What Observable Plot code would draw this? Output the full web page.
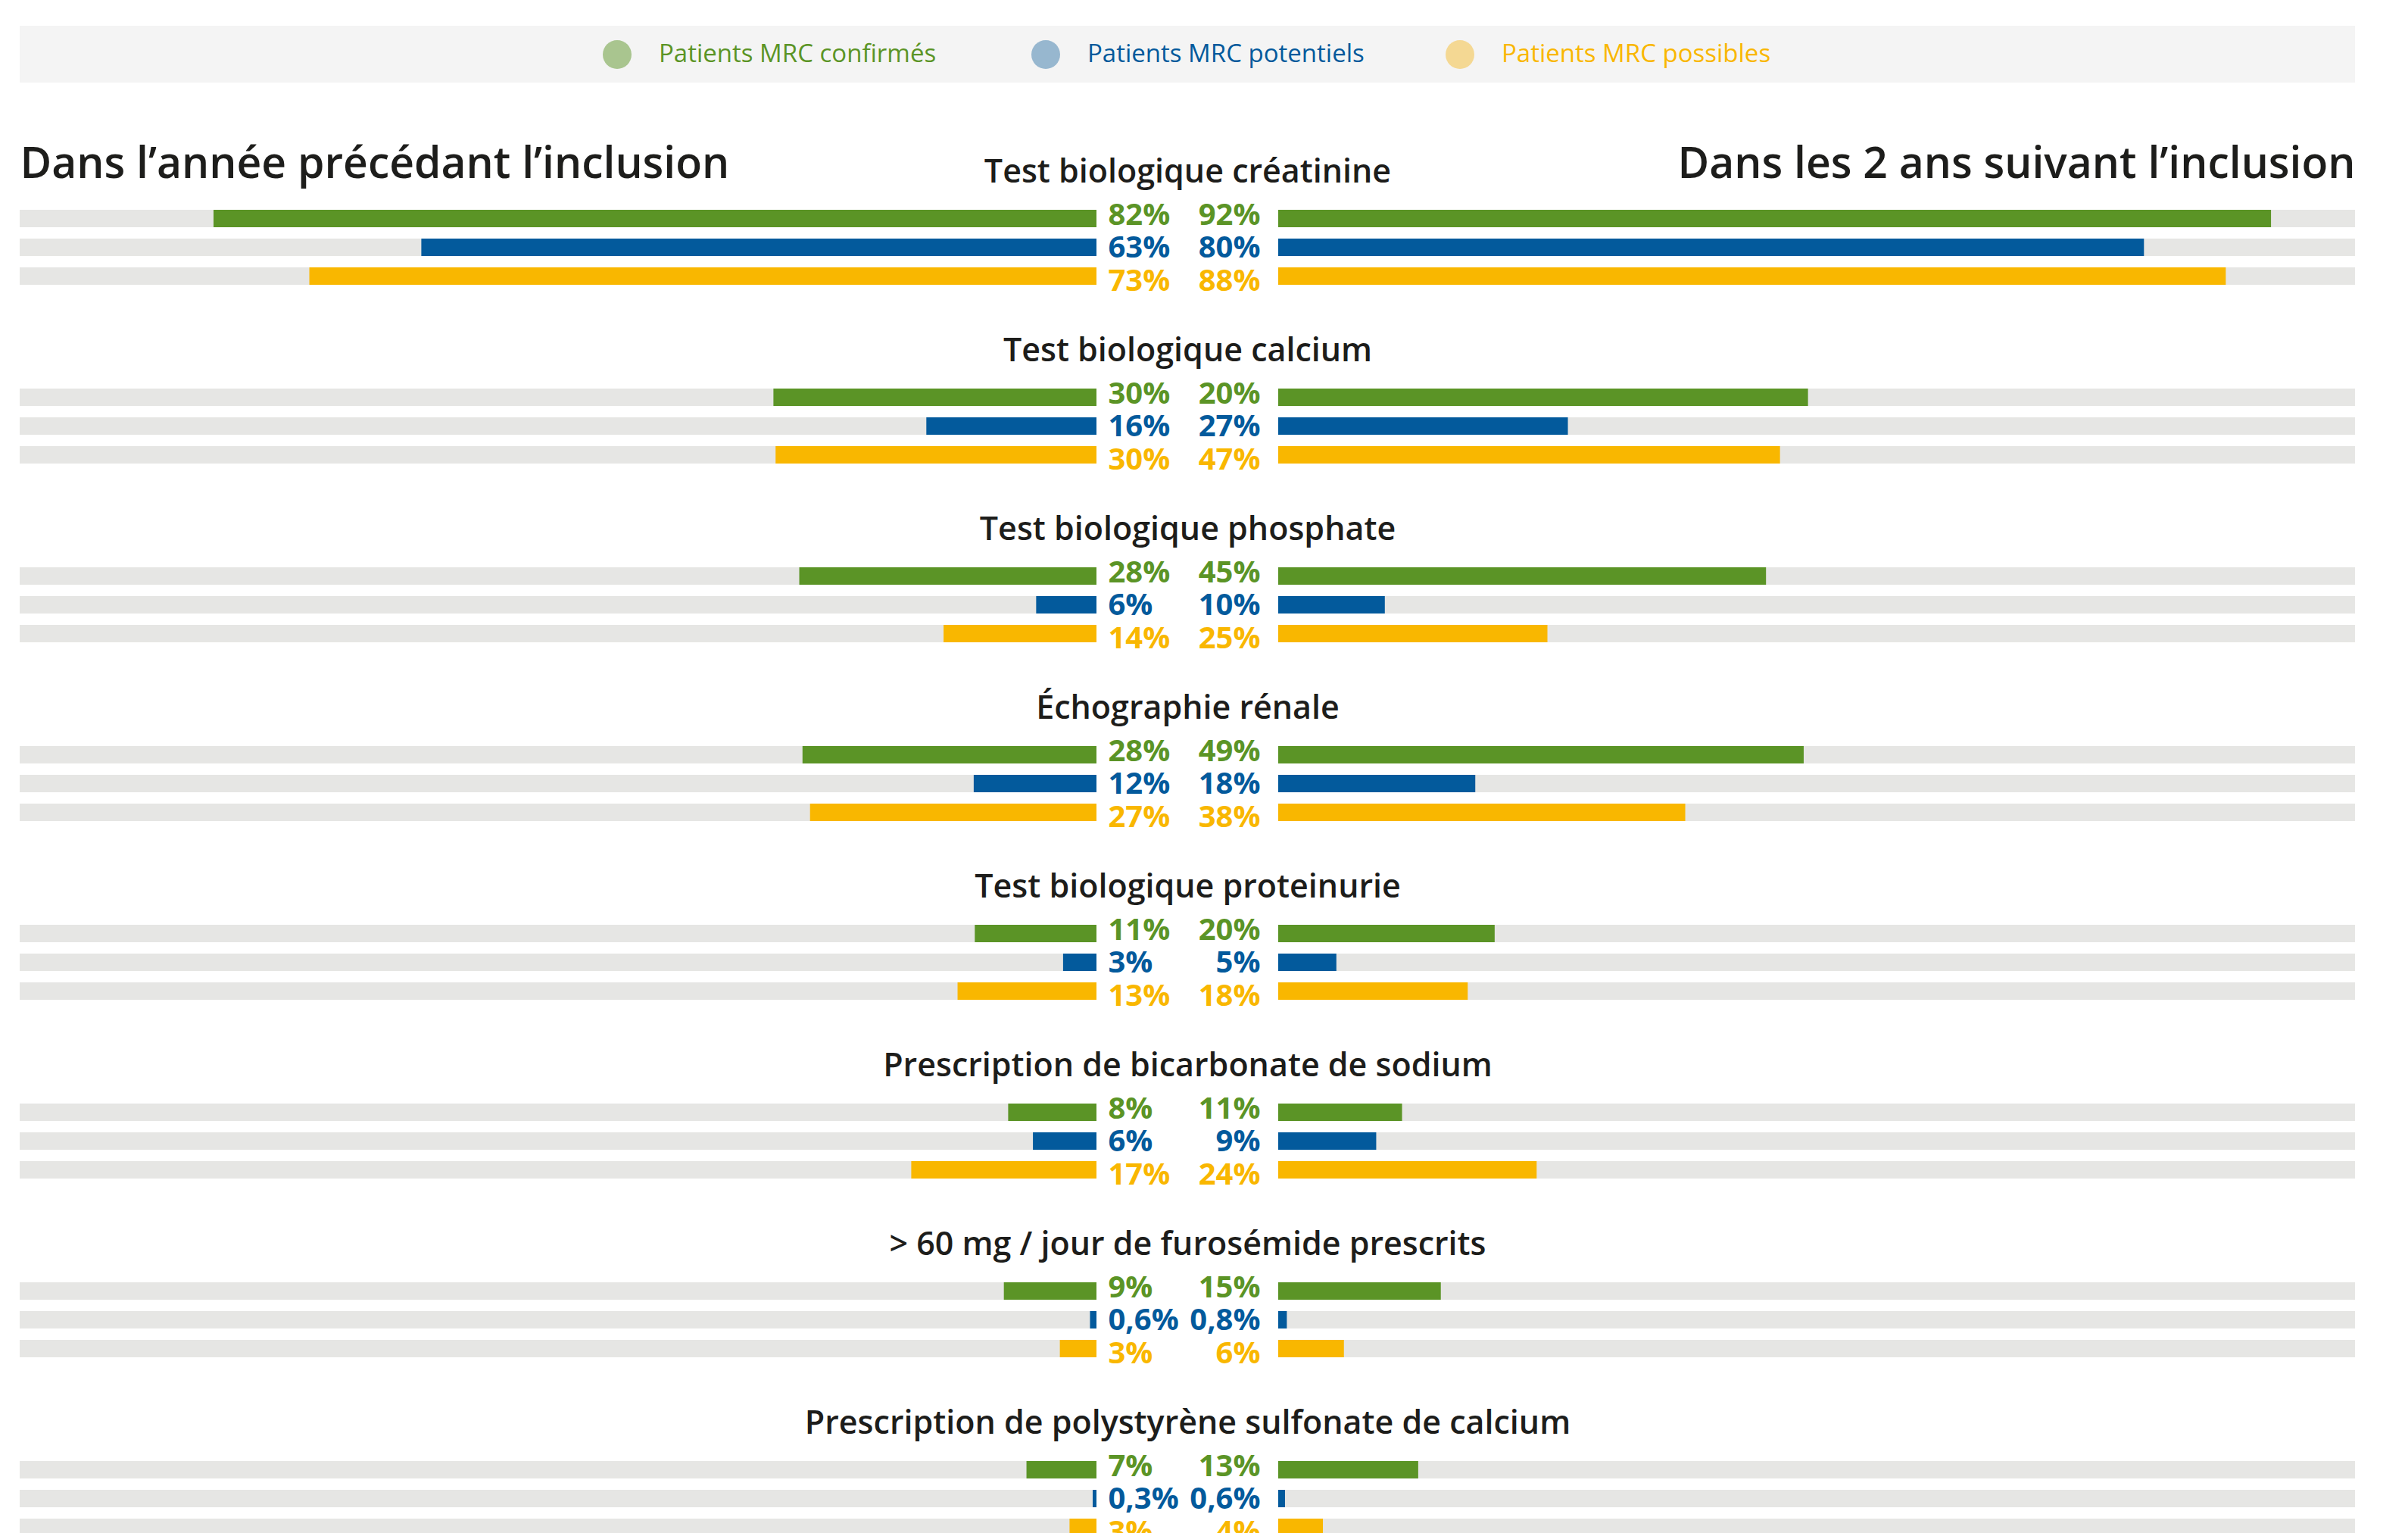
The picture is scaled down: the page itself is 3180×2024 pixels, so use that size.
<!DOCTYPE html>
<html>
<head>
<meta charset="utf-8">
<script src="https://cdn.jsdelivr.net/npm/d3@7"></script>
<script src="https://cdn.jsdelivr.net/npm/@observablehq/plot@0.6"></script>
<style>
  html, body { margin: 0; padding: 0; background: #ffffff; }
  body { width: 3180px; height: 2024px; overflow: hidden; font-family: "Open Sans", sans-serif; }
  #legend { position: relative; margin: 34px 0 0 26px; width: 3084px; height: 75px; background: #f4f4f4; }
  .item { position: absolute; top: 0; height: 75px; display: flex; align-items: center; }
  .dot { width: 38px; height: 38px; border-radius: 50%; margin-right: 36px; flex: none; }
  .item span { font-size: 33px; font-weight: 400; position: relative; top: -2px; white-space: nowrap; }
  #chart { height: 1915px; overflow: hidden; }
  #chart svg { display: block; }
</style>
</head>
<body>
<div id="legend"></div>
<div id="chart"></div>
<script>
// ---- Data ----
const sections = [
  "Test biologique créatinine",
  "Test biologique calcium",
  "Test biologique phosphate",
  "Échographie rénale",
  "Test biologique proteinurie",
  "Prescription de bicarbonate de sodium",
  "> 60 mg / jour de furosémide prescrits",
  "Prescription de polystyrène sulfonate de calcium"
];
const groups = ["Patients MRC confirmés", "Patients MRC potentiels", "Patients MRC possibles"];
const groupColors = ["#5b9426", "#035a9c", "#f9b700"];
const legendDotColors = ["#a9c58f", "#97b7cf", "#f4d893"];

const headerBefore = "Dans l’année précédant l’inclusion";
const headerAfter = "Dans les 2 ans suivant l’inclusion";

// Bar lengths (%)
const beforeConfirmes = [82, 30, 27.6, 27.3, 11.3, 8.2, 8.6, 6.5];
const beforePotentiels = [62.7, 15.8, 5.6, 11.4, 3.1, 5.9, 0.6, 0.35];
const beforePossibles = [73.1, 29.8, 14.2, 26.6, 12.9, 17.2, 3.4, 2.5];
const afterConfirmes = [92.2, 49.2, 45.3, 48.8, 20.1, 11.5, 15.1, 13];
const afterPotentiels = [80.4, 26.9, 9.9, 18.3, 5.4, 9.1, 0.8, 0.63];
const afterPossibles = [88, 46.6, 25, 37.8, 17.6, 24, 6.1, 4.15];

// Printed labels
const beforeConfirmesLabels = ["82%", "30%", "28%", "28%", "11%", "8%", "9%", "7%"];
const beforePotentielsLabels = ["63%", "16%", "6%", "12%", "3%", "6%", "0,6%", "0,3%"];
const beforePossiblesLabels = ["73%", "30%", "14%", "27%", "13%", "17%", "3%", "3%"];
const afterConfirmesLabels = ["92%", "20%", "45%", "49%", "20%", "11%", "15%", "13%"];
const afterPotentielsLabels = ["80%", "27%", "10%", "18%", "5%", "9%", "0,8%", "0,6%"];
const afterPossiblesLabels = ["88%", "47%", "25%", "38%", "18%", "24%", "6%", "4%"];

// ---- Build table ----
const beforeVals = [beforeConfirmes, beforePotentiels, beforePossibles];
const afterVals = [afterConfirmes, afterPotentiels, afterPossibles];
const beforeLabs = [beforeConfirmesLabels, beforePotentielsLabels, beforePossiblesLabels];
const afterLabs = [afterConfirmesLabels, afterPotentielsLabels, afterPossiblesLabels];

const table = [];
sections.forEach((s, i) => {
  groups.forEach((g, j) => {
    table.push({section: s, group: g, side: "before", value: beforeVals[j][i], label: beforeLabs[j][i]});
    table.push({section: s, group: g, side: "after", value: afterVals[j][i], label: afterLabs[j][i]});
  });
});

// ---- Legend ----
const legend = document.getElementById("legend");
const legendLeft = [770, 1336, 1883];
groups.forEach((g, j) => {
  const it = document.createElement("div");
  it.className = "item";
  it.style.left = legendLeft[j] + "px";
  it.innerHTML = `<div class="dot" style="background:${legendDotColors[j]}"></div><span style="color:${groupColors[j]}">${g}</span>`;
  legend.appendChild(it);
});

// ---- Chart ----
const G = 8.44; // half of the central gap, in % units
const isBefore = d => d.side === "before";
const base = d => isBefore(d) ? -G : G;
const full = d => isBefore(d) ? -(100 + G) : 100 + G;
const tip = d => isBefore(d) ? -G - d.value : G + d.value;

const labelDy = [7.5, 12.5, 18.5];
const labelMarks = [];
groups.forEach((g, j) => {
  labelMarks.push(Plot.text(table.filter(d => d.group === g && isBefore(d)), {
    x: base, y: "group", fy: "section", text: "label", fill: "group",
    textAnchor: "start", dx: 15, dy: labelDy[j], lineAnchor: "bottom",
    fontSize: 40, fontWeight: 700
  }));
  labelMarks.push(Plot.text(table.filter(d => d.group === g && !isBefore(d)), {
    x: base, y: "group", fy: "section", text: "label", fill: "group",
    textAnchor: "end", dx: -24, dy: labelDy[j], lineAnchor: "bottom",
    fontSize: 40, fontWeight: 700
  }));
});

const sectionRows = sections.map(s => ({section: s}));

const chart = Plot.plot({
  width: 3180,
  height: 1966,
  marginLeft: 26,
  marginRight: 70,
  marginTop: 160.5,
  marginBottom: 39.5,
  style: {fontFamily: "'Open Sans', sans-serif", background: "#ffffff"},
  x: {domain: [-(100 + G), 100 + G], axis: null},
  y: {domain: groups, axis: null, paddingInner: 15 / 38, paddingOuter: 7.5 / 38, round: false},
  fy: {domain: sections, axis: null, paddingInner: 1 - 114 / 236, paddingOuter: 0, align: 0, round: false},
  color: {domain: groups, range: groupColors},
  marks: [
    Plot.barX(table, {x1: base, x2: full, y: "group", fy: "section", fill: "#e6e6e4"}),
    Plot.barX(table, {x1: base, x2: tip, y: "group", fy: "section", fill: "group"}),
    ...labelMarks,
    Plot.text(sectionRows, {
      fy: "section", text: "section", frameAnchor: "top", lineAnchor: "bottom",
      dy: -29.5, fontSize: 43, fontWeight: 600, fill: "#1d1d1b"
    }),
    Plot.text([{section: sections[0]}], {
      fy: "section", text: () => headerBefore, frameAnchor: "top-left", textAnchor: "start",
      lineAnchor: "bottom", dy: -35.5, fontSize: 57, fontWeight: 600, fill: "#1d1d1b"
    }),
    Plot.text([{section: sections[0]}], {
      fy: "section", text: () => headerAfter, frameAnchor: "top-right", textAnchor: "end",
      lineAnchor: "bottom", dy: -35.5, fontSize: 57, fontWeight: 600, fill: "#1d1d1b"
    })
  ]
});
document.getElementById("chart").appendChild(chart);
</script>
</body>
</html>
